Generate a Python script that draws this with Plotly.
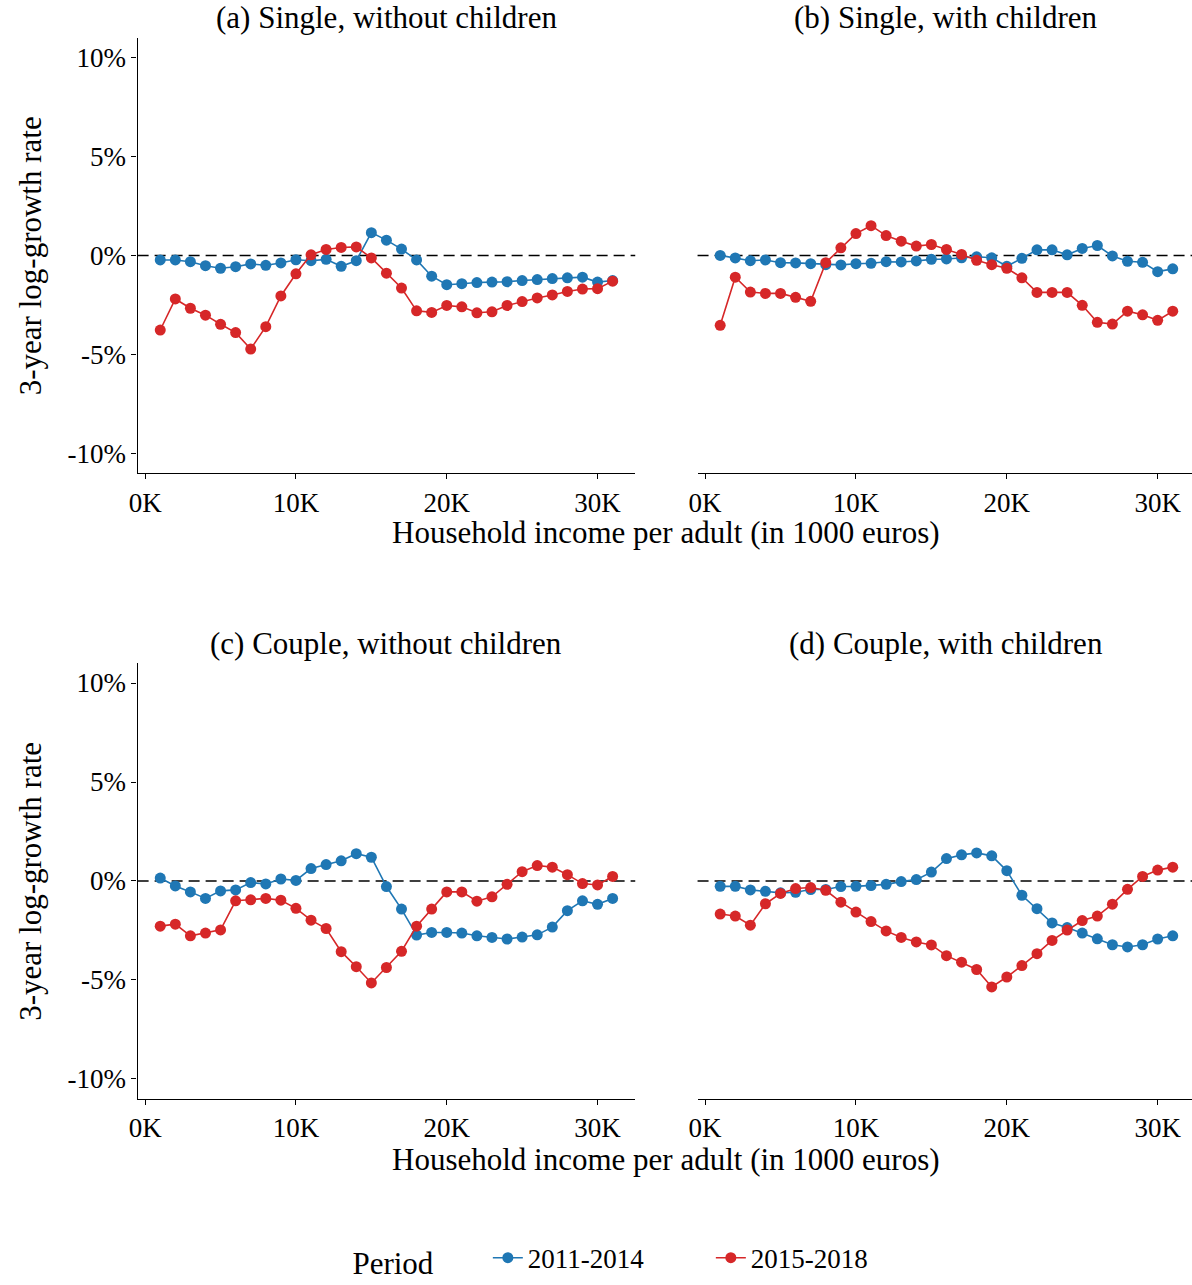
import plotly.graph_objects as go

# ---------------- data ----------------
income_k = [1, 2, 3, 4, 5, 6, 7, 8, 9, 10, 11, 12, 13, 14, 15, 16,
            17, 18, 19, 20, 21, 22, 23, 24, 25, 26, 27, 28, 29, 30, 31]

periods = ["2011-2014", "2015-2018"]

panel_titles = ["(a) Single, without children", "(b) Single, with children",
                "(c) Couple, without children", "(d) Couple, with children"]

# (a) Single, without children
a_2011 = [-0.23, -0.23, -0.32, -0.52, -0.65, -0.57, -0.43, -0.50, -0.38, -0.22,
          -0.27, -0.20, -0.55, -0.27, 1.15, 0.77, 0.32, -0.23, -1.05, -1.48,
          -1.43, -1.37, -1.35, -1.33, -1.27, -1.22, -1.17, -1.13, -1.10, -1.35, -1.27]
a_2015 = [-3.77, -2.20, -2.67, -3.02, -3.48, -3.90, -4.73, -3.60, -2.05, -0.93,
          0.03, 0.30, 0.40, 0.43, -0.13, -0.90, -1.65, -2.80, -2.88, -2.53,
          -2.60, -2.90, -2.85, -2.53, -2.33, -2.15, -2.00, -1.82, -1.70, -1.68, -1.30]

# (b) Single, with children
b_2011 = [0.00, -0.13, -0.27, -0.23, -0.37, -0.38, -0.42, -0.47, -0.48, -0.42,
          -0.40, -0.32, -0.33, -0.28, -0.20, -0.18, -0.12, -0.07, -0.12, -0.55,
          -0.15, 0.28, 0.28, 0.03, 0.35, 0.50, -0.03, -0.30, -0.35, -0.82, -0.68]
b_2015 = [-3.53, -1.10, -1.85, -1.92, -1.92, -2.12, -2.32, -0.37, 0.38, 1.10,
          1.50, 1.00, 0.72, 0.47, 0.55, 0.30, 0.05, -0.25, -0.47, -0.65,
          -1.13, -1.87, -1.87, -1.87, -2.52, -3.38, -3.47, -2.82, -3.00, -3.28, -2.82]

# (c) Couple, without children
c_2011 = [0.15, -0.25, -0.55, -0.88, -0.50, -0.45, -0.08, -0.15, 0.10, 0.03,
          0.63, 0.83, 1.02, 1.38, 1.20, -0.28, -1.42, -2.73, -2.60, -2.60,
          -2.63, -2.77, -2.85, -2.93, -2.83, -2.72, -2.33, -1.50, -1.00, -1.18, -0.88]
c_2015 = [-2.28, -2.18, -2.77, -2.63, -2.47, -1.00, -0.95, -0.88, -0.97, -1.38,
          -1.98, -2.40, -3.57, -4.33, -5.15, -4.37, -3.55, -2.28, -1.42, -0.55,
          -0.55, -1.02, -0.80, -0.17, 0.47, 0.78, 0.70, 0.32, -0.13, -0.20, 0.23]

# (d) Couple, with children
d_2011 = [-0.27, -0.27, -0.45, -0.52, -0.60, -0.57, -0.43, -0.43, -0.28, -0.27,
          -0.23, -0.17, -0.03, 0.07, 0.45, 1.13, 1.32, 1.42, 1.27, 0.52,
          -0.72, -1.40, -2.12, -2.35, -2.63, -2.92, -3.22, -3.33, -3.22, -2.93, -2.77]
d_2015 = [-1.67, -1.77, -2.23, -1.15, -0.63, -0.38, -0.33, -0.47, -1.07, -1.57,
          -2.05, -2.52, -2.85, -3.08, -3.23, -3.77, -4.10, -4.47, -5.35, -4.85,
          -4.27, -3.67, -3.00, -2.48, -2.00, -1.77, -1.17, -0.42, 0.23, 0.55, 0.70]

y_tickvals = [-10, -5, 0, 5, 10]
y_ticktext = ["-10%", "-5%", "0%", "5%", "10%"]
x_tickvals = [0, 10, 20, 30]
x_ticktext = ["0K", "10K", "20K", "30K"]

panels = [(a_2011, a_2015), (b_2011, b_2015), (c_2011, c_2015), (d_2011, d_2015)]

# ---------------- style ----------------
W, H = 1192, 1285
FONT = "Liberation Serif"
colors = ["#1f77b4", "#d62728"]

# pixel geometry
left_x = (129.6, 631.0)
right_x = (693.8, 1192.0)
top_y = (38, 478)
bot_y = (670, 1110)


def fx(px):
    return px / W


def fy(py):
    return 1 - py / H


fig = go.Figure()

domains = [
    (left_x, top_y), (right_x, top_y),
    (left_x, bot_y), (right_x, bot_y),
]

for i, ((s1, s2), (xd, yd)) in enumerate(zip(panels, domains)):
    n = i + 1
    xa = "x" if n == 1 else f"x{n}"
    ya = "y" if n == 1 else f"y{n}"
    for k, (vals, per) in enumerate(zip((s1, s2), periods)):
        fig.add_trace(go.Scatter(
            x=income_k, y=vals, mode="lines+markers", name=per,
            line=dict(color=colors[k], width=1.6),
            marker=dict(color=colors[k], size=11),
            xaxis=xa, yaxis=ya, showlegend=(n == 1), legendgroup=per,
        ))
    is_left = n in (1, 3)
    xr = [-0.5, 32.5] if is_left else [-0.5, 32.5 - (1195.4 - 1192.0) / 15.2]
    fig.layout[f"xaxis{'' if n == 1 else n}"] = dict(
        domain=[fx(xd[0]), fx(xd[1])], range=xr, anchor=ya,
        showline=True, linecolor="black", linewidth=1.3,
        ticks="outside", ticklen=5, tickwidth=1.1, tickcolor="black",
        tickvals=x_tickvals, ticktext=x_ticktext,
        tickfont=dict(family=FONT, size=27, color="black"),
        showgrid=False, zeroline=False,
    )
    fig.layout[f"yaxis{'' if n == 1 else n}"] = dict(
        domain=[fy(yd[1]), fy(yd[0])], range=[-11, 11], anchor=xa,
        showline=is_left, linecolor="black", linewidth=1.3,
        ticks="outside" if is_left else "", ticklen=5, tickwidth=1.1,
        tickcolor="black",
        tickvals=y_tickvals, ticktext=y_ticktext, showticklabels=is_left,
        tickfont=dict(family=FONT, size=27, color="black"),
        showgrid=False, zeroline=False,
    )
    # dashed zero reference line
    fig.add_shape(type="line", xref=f"{xa} domain", yref=ya,
                  x0=0, x1=1, y0=0, y1=0,
                  line=dict(color="black", width=1.5, dash="11px,6px"),
                  layer="below")
    # panel title
    fig.add_annotation(text=panel_titles[i], xref="paper", yref="paper",
                       x=fx((xd[0] + (1195.4 if not is_left else xd[1])) / 2),
                       y=fy(yd[0] - 20), xanchor="center", yanchor="middle",
                       showarrow=False,
                       font=dict(family=FONT, size=31, color="black"))

# axis titles
for yc in (258, 890):
    fig.add_annotation(text="3-year log-growth rate", xref="paper", yref="paper",
                       x=fx(22), y=fy(yc), textangle=-90, showarrow=False,
                       xanchor="center", yanchor="middle",
                       font=dict(family=FONT, size=31, color="black"))
for yc in (538, 1171):
    fig.add_annotation(text="Household income per adult (in 1000 euros)",
                       xref="paper", yref="paper", x=fx(662.5), y=fy(yc),
                       showarrow=False, xanchor="center", yanchor="middle",
                       font=dict(family=FONT, size=31, color="black"))

fig.update_layout(
    width=W, height=H,
    margin=dict(l=0, r=0, t=0, b=0),
    paper_bgcolor="white", plot_bgcolor="white",
    font=dict(family=FONT, color="black"),
    showlegend=True,
    legend=dict(
        orientation="h", x=fx(344), xanchor="left", y=fy(1272), yanchor="middle",
        title=dict(text="Period      ", side="left",
                   font=dict(family=FONT, size=31, color="black")),
        font=dict(family=FONT, size=27, color="black"),
        entrywidth=178, itemwidth=30,
        bgcolor="rgba(0,0,0,0)",
    ),
)

fig.write_html(
    "out.html",
    config={"displayModeBar": False},
    post_script="document.body.style.margin='0';document.body.style.padding='0';"
                "document.body.style.overflow='hidden';",
)
